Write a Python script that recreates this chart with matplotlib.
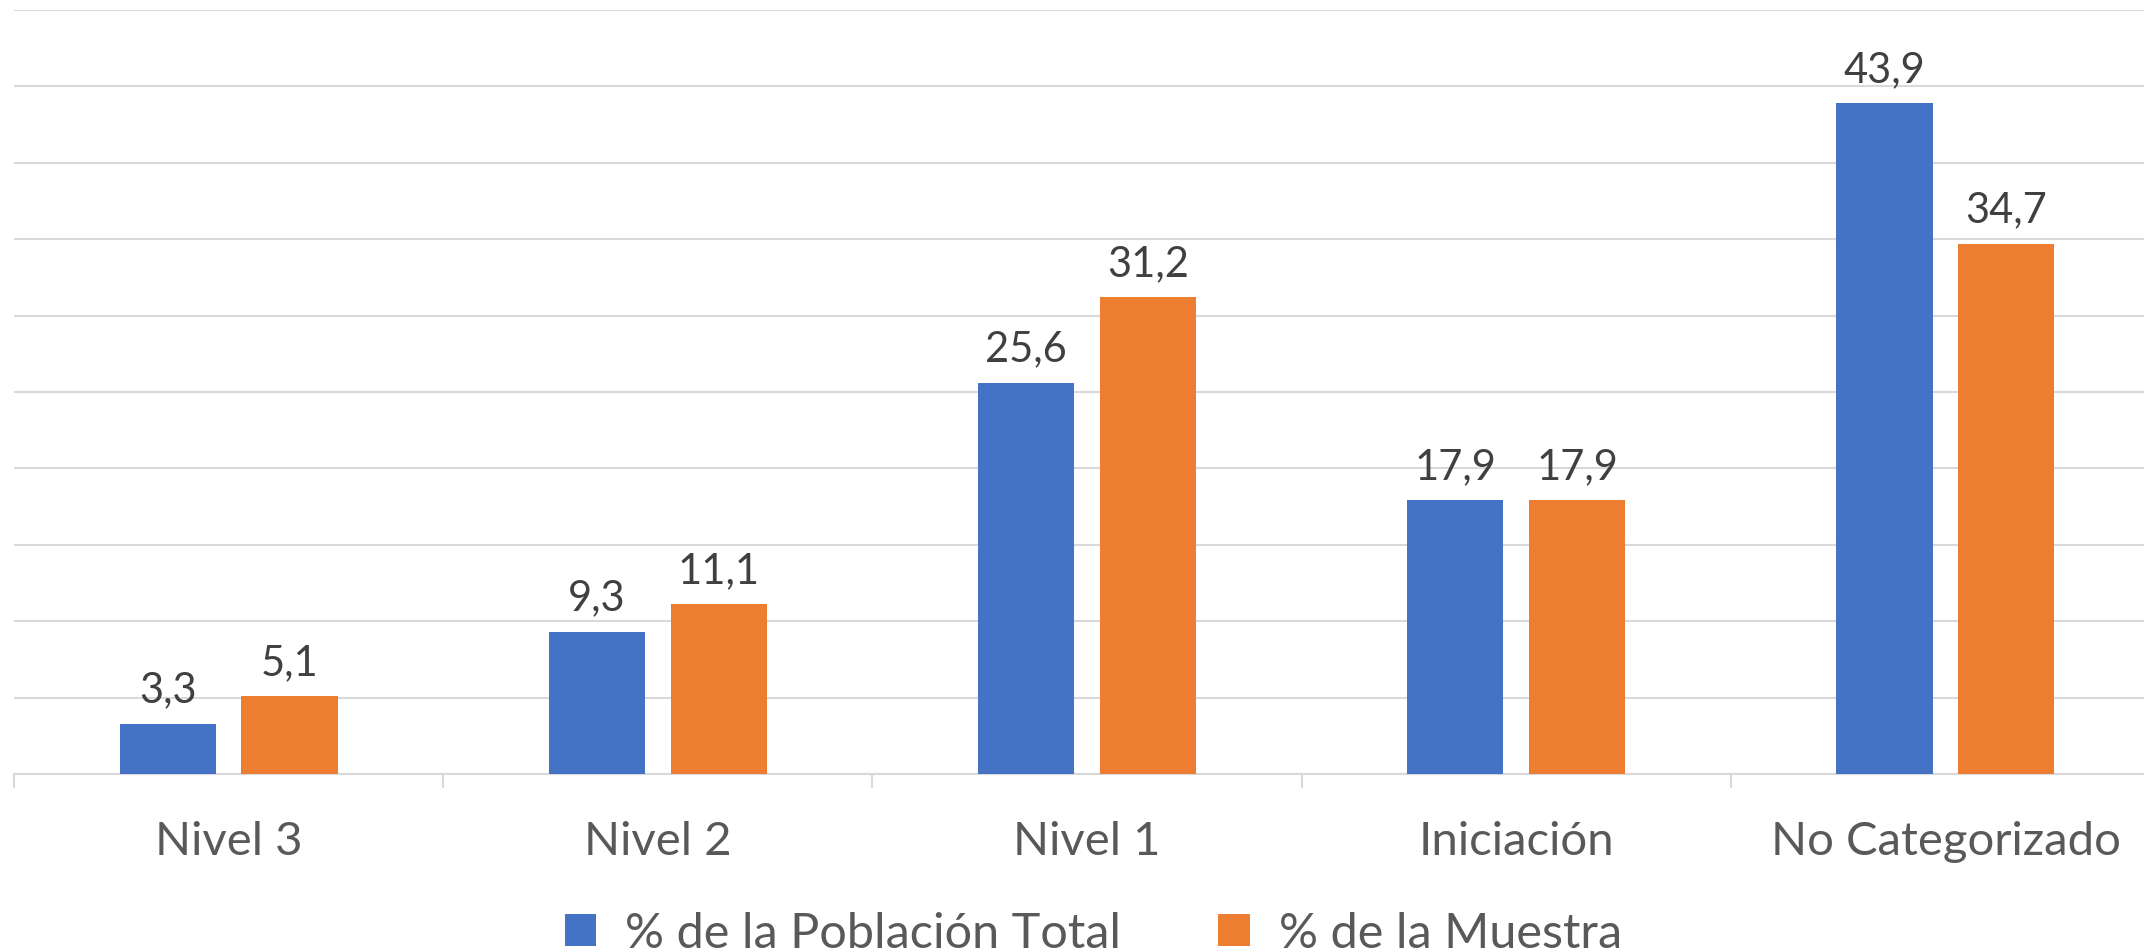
import numpy as np
import matplotlib
matplotlib.use("Agg")
import matplotlib.pyplot as plt

plt.rcParams['font.family'] = ['Lato', 'DejaVu Sans']

# data
categories = ["Nivel 3", "Nivel 2", "Nivel 1", "Iniciación", "No Categorizado"]
poblacion = [3.3, 9.3, 25.6, 17.9, 43.9]
muestra = [5.1, 11.1, 31.2, 17.9, 34.7]
series_names = ["% de la Población Total", "% de la Muestra"]

blue = "#4472c4"
orange = "#ed7d31"
grid_c = "#d9d9d9"

fig = plt.figure(figsize=(21.44, 9.53), dpi=100)
ax = fig.add_axes([0.0065, 0.1868, 1.001, 0.8017])

x = np.arange(len(categories))
w = 0.224
off = 0.142
b1 = ax.bar(x - off, poblacion, w, color=blue, label=series_names[0], zorder=3)
b2 = ax.bar(x + off, muestra, w, color=orange, label=series_names[1], zorder=3)

# data labels
for bars, vals in ((b1, poblacion), (b2, muestra)):
    for rect, v in zip(bars, vals):
        ax.annotate(f"{v:.1f}".replace(".", ","),
                    (rect.get_x() + rect.get_width() / 2, v),
                    xytext=(0, 11), textcoords="offset points",
                    ha="center", va="bottom", fontsize=30, color="#404040")

ax.set_xlim(-0.5, len(categories) - 0.5)
ax.set_ylim(0, 50)
ax.set_yticks(np.arange(0, 51, 5))
ax.yaxis.grid(True, color=grid_c, linewidth=1.5, zorder=0)
ax.tick_params(axis="y", left=False, labelleft=False)

ax.set_xticks(x)
ax.set_xticklabels(categories, fontsize=34, color="#595959")
ax.tick_params(axis="x", length=0, pad=33)
ax.set_xticks(np.arange(-0.5, len(categories)), minor=True)
ax.tick_params(axis="x", which="minor", length=10, width=1.5, color=grid_c)

for s in ("top", "right", "left"):
    ax.spines[s].set_visible(False)
ax.spines["bottom"].set_color(grid_c)
ax.spines["bottom"].set_linewidth(1.5)

fig.legend(handles=[b1, b2], labels=series_names, loc="center",
           bbox_to_anchor=(0.51, 0.02), ncol=2, frameon=False,
           fontsize=35, labelcolor="#595959", handlelength=0.65,
           handleheight=0.65, handletextpad=0.6, columnspacing=2.0)

fig.savefig("out.png", dpi=100)
